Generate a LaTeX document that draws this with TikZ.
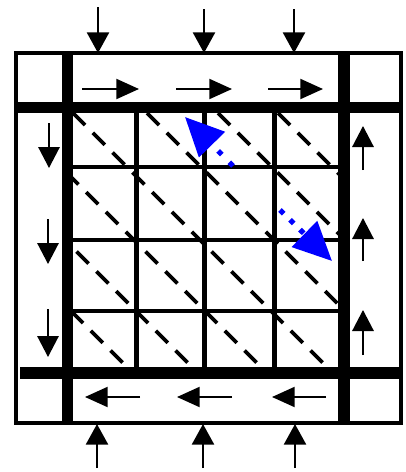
\documentclass[tikz,border=0pt]{standalone}
\usetikzlibrary{arrows.meta}
\begin{document}
\begin{tikzpicture}[x=0.75pt,y=-0.75pt,
  frame/.style={line width=3pt},
  bar/.style={line width=8.4pt},
  gridv/.style={line width=3.75pt},
  gridh/.style={line width=3pt},
  diag/.style={line width=2.9pt, dash pattern=on 12.75pt off 8.25pt},
  outarr/.style={line width=1.9pt, -{Triangle[length=15.5pt,width=16.5pt]}},
  rowarr/.style={line width=1.5pt, -{Triangle[length=17pt,width=15pt]}},
  colarr/.style={line width=1.5pt, -{Triangle[length=15.75pt,width=16pt]}},
  bluearr/.style={blue, line width=3.9pt, -{Triangle[length=29pt,width=26.5pt]}},
]
\useasboundingbox (0,0) rectangle (405,472);
% dashed diagonals
\begin{scope}
  \clip (73,113) rectangle (338,368);
  \foreach \c in {165,105,34,-40,-106,-175,-240}{
    \draw[diag] (113+\c,113) -- (400+\c,400);
  }
\end{scope}
% grid lines
\foreach \x in {136,204,274} \draw[gridv] (\x,113) -- (\x,368);
\foreach \y in {167,240,311} \draw[gridh] (73,\y) -- (338,\y);
% thick bars
\draw[bar] (67.5,55) -- (67.5,425);
\draw[bar] (344,55) -- (344,425);
\draw[bar] (18,107.5) -- (400,107.5);
\draw[bar] (20,373) -- (400,373);
% outer frame
\draw[frame] (16,53) rectangle (401,423);
% outside arrows
\draw[outarr] (98,7) -- (98,53);
\draw[outarr] (204,9) -- (204,53);
\draw[outarr] (294,9) -- (294,53);
\draw[outarr] (97,468) -- (97,424);
\draw[outarr] (203,468) -- (203,424);
\draw[outarr] (295,468) -- (295,424);
% row arrows
\draw[rowarr] (82,89) -- (139,89);
\draw[rowarr] (176,89) -- (232,89);
\draw[rowarr] (268,89) -- (323,89);
\draw[rowarr] (140,397) -- (85,397);
\draw[rowarr] (232,397) -- (177,397);
\draw[rowarr] (326,397) -- (272,397);
% column arrows
\draw[colarr] (49,123) -- (49,168);
\draw[colarr] (48,219) -- (48,264);
\draw[colarr] (48,309) -- (48,357);
\draw[colarr] (363,170) -- (363,126);
\draw[colarr] (363,261) -- (363,218);
\draw[colarr] (363,355) -- (363,310);
% blue dotted arrows
\draw[bluearr, dash pattern=on 3.9pt off 8.1pt] (233,166) -- (185,117);
\draw[bluearr, dash pattern=on 3.9pt off 6.6pt] (280,210) -- (332,261);
\end{tikzpicture}
\end{document}
